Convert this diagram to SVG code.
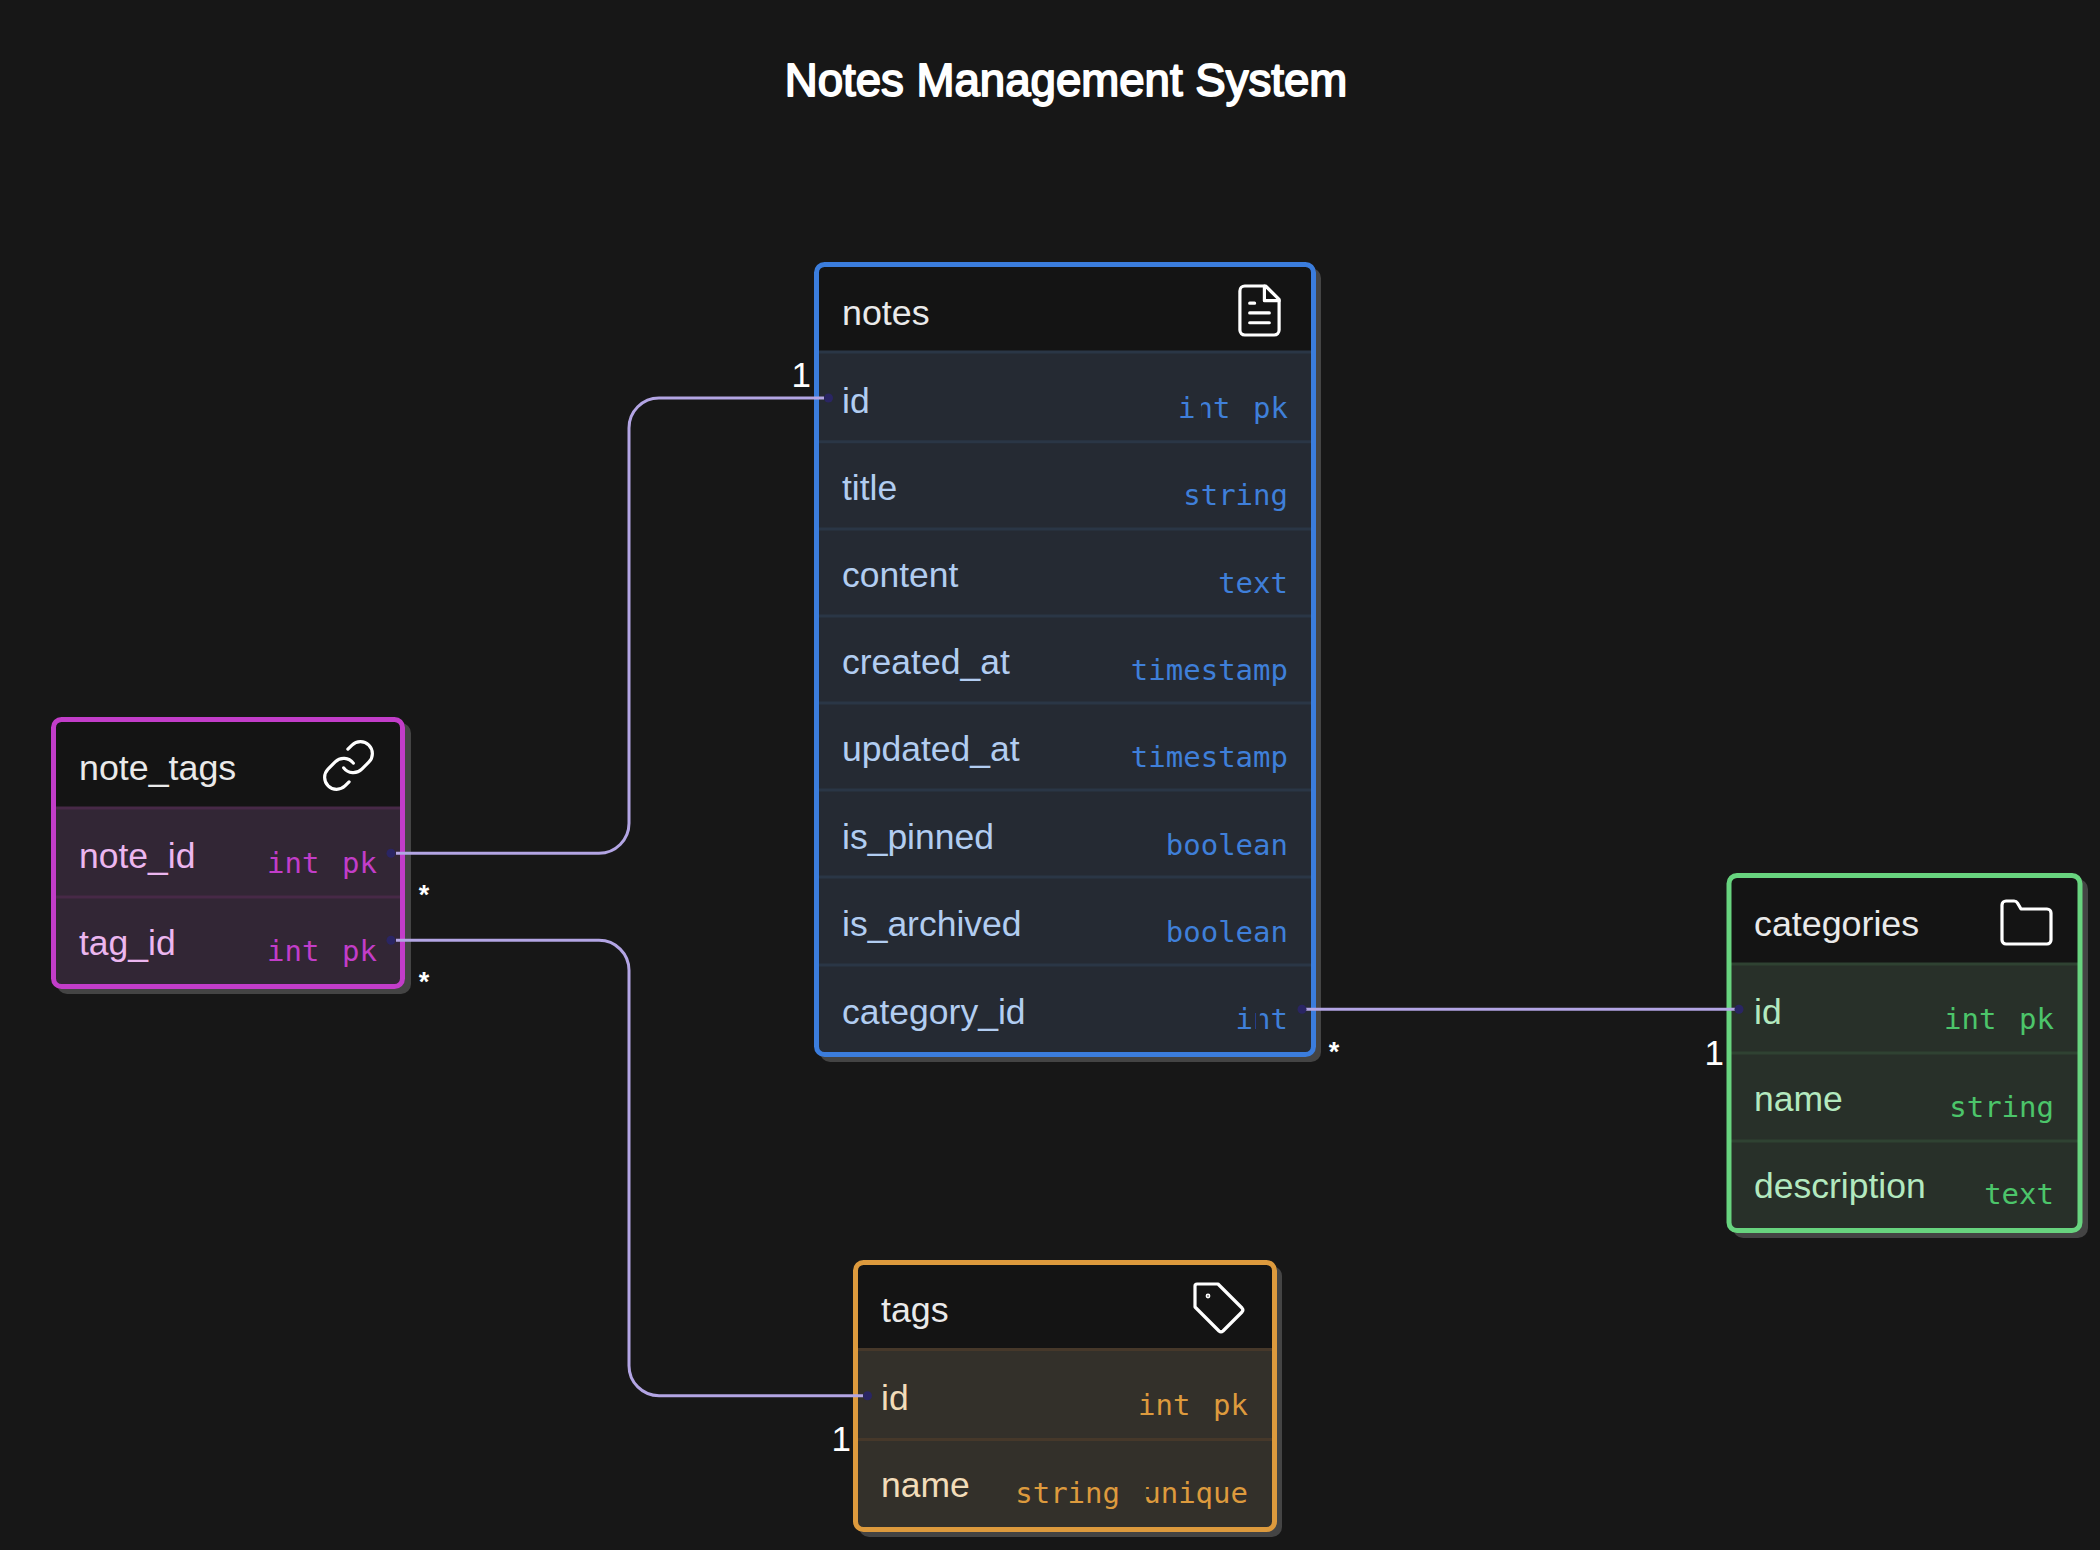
<svg xmlns="http://www.w3.org/2000/svg" width="2100" height="1550" viewBox="0 0 2100 1550">
<style>
.sh{fill:#444}
.title{font:400 45.6px "Liberation Sans",Arial,sans-serif;fill:#fff;stroke:#fff;stroke-width:1.8;stroke-linejoin:round;text-anchor:middle}
.h{font:400 35.8px "Liberation Sans",Arial,sans-serif;fill:#eaeaea}
.n{font:400 35.5px "Liberation Sans",Arial,sans-serif}
.t{font:400 29px "DejaVu Sans Mono",monospace;text-anchor:end}
.ic{fill:none;stroke:#fff;stroke-linecap:round;stroke-linejoin:round}
.d{stroke-width:3;fill:none}
.c{fill:none;stroke:#b3a5e4;stroke-width:3}
.dot{fill:#2a2563}
.lab{font:400 35px "Liberation Sans",Arial,sans-serif;fill:#fff}
.star{font:700 27px "Liberation Sans",Arial,sans-serif;fill:#fff;text-anchor:middle}
.hd{fill:#141414}
.blue .b{stroke:#3b7ddd}.blue .r{fill:#252a33}.blue .d{stroke:#2a3646}.blue .n{fill:#b2cdf1}.blue .t{fill:#3f7fd9}
.pink .b{stroke:#c23dc9}.pink .r{fill:#322635}.pink .d{stroke:#472947}.pink .n{fill:#ecb6ef}.pink .t{fill:#c23dc9}
.green .b{stroke:#68d47f}.green .r{fill:#283029}.green .d{stroke:#2f4232}.green .n{fill:#b3e9bf}.green .t{fill:#4cc56a}
.orange .b{stroke:#dd9a3d}.orange .r{fill:#33302a}.orange .d{stroke:#46382a}.orange .n{fill:#f2dcb9}.orange .t{fill:#dd9a3d}
.b{fill:none;stroke-width:5}
</style>
<rect width="2100" height="1550" fill="#171717"/>
<text id="title" class="title" x="1066" y="96">Notes Management System</text>

<g id="notes" class="blue">
<rect class="sh" x="820" y="268" width="501" height="794" rx="10"/>
<rect class="hd" x="816" y="264" width="498" height="791" rx="8"/>
<path class="r" d="M817 352H1313V1047a7 7 0 0 1-7 7H824a7 7 0 0 1-7-7Z"/>
<path class="d" d="M817 352H1313M817 441.700H1313M817 529H1313M817 616H1313M817 703H1313M817 790H1313M817 877H1313M817 965H1313"/>
<rect class="b" x="816.500" y="264.500" width="497" height="790" rx="8"/>
<text class="h" x="842" y="325">notes</text>
<g class="ic" transform="translate(1230.100 281.100) scale(2.45)" stroke-width="1.3"><path d="M14.500 2H6a2 2 0 0 0-2 2v16a2 2 0 0 0 2 2h12a2 2 0 0 0 2-2V7.500L14.500 2z"/><path d="M14 2v6h6M16 13H8M16 17H8M10 9H8"/></g>
<text class="n" x="842" y="413">id</text><text class="t" x="1230.400" y="418">int</text><text class="t" x="1288" y="418">pk</text>
<rect class="r" x="1197" y="401" width="4" height="18"/>
<text class="n" x="842" y="500">title</text><text class="t" x="1288" y="505">string</text>
<text class="n" x="842" y="587">content</text><text class="t" x="1288" y="593">text</text>
<text class="n" x="842" y="674">created_at</text><text class="t" x="1288" y="680">timestamp</text>
<text class="n" x="842" y="761">updated_at</text><text class="t" x="1288" y="767">timestamp</text>
<text class="n" x="842" y="849">is_pinned</text><text class="t" x="1288" y="855">boolean</text>
<text class="n" x="842" y="936">is_archived</text><text class="t" x="1288" y="942">boolean</text>
<text class="n" x="842" y="1024">category_id</text><text class="t" x="1288" y="1029">int</text>
<rect class="r" x="1255.800" y="1012" width="4" height="18"/>
</g>

<g id="note_tags" class="pink">
<rect class="sh" x="57" y="723" width="354" height="271" rx="10"/>
<rect class="hd" x="53" y="719" width="350" height="268" rx="8"/>
<path class="r" d="M54 808H402V979a7 7 0 0 1-7 7H61a7 7 0 0 1-7-7Z"/>
<path class="d" d="M54 808H402M54 897H402"/>
<rect class="b" x="53.500" y="719.500" width="349" height="267" rx="8"/>
<text class="h" x="79" y="780">note_tags</text>
<g class="ic" transform="translate(319.700 736.700) scale(2.4)" stroke-width="1.33"><path d="M10 13a5 5 0 0 0 7.540.540l3-3a5 5 0 0 0-7.070-7.070l-1.720 1.710"/><path d="M14 11a5 5 0 0 0-7.540-.540l-3 3a5 5 0 0 0 7.070 7.070l1.710-1.710"/></g>
<text class="n" x="79" y="868">note_id</text><text class="t" x="319.400" y="873">int</text><text class="t" x="377" y="873">pk</text>
<text class="n" x="79" y="955">tag_id</text><text class="t" x="319.400" y="961">int</text><text class="t" x="377" y="961">pk</text>
</g>

<g id="categories" class="green">
<rect class="sh" x="1733" y="879" width="355" height="359" rx="10"/>
<rect class="hd" x="1729" y="875" width="351" height="356" rx="8"/>
<path class="r" d="M1730 964H2079V1223a7 7 0 0 1-7 7H1737a7 7 0 0 1-7-7Z"/>
<path class="d" d="M1730 964H2079M1730 1053H2079M1730 1141H2079"/>
<rect class="b" x="1729" y="875.500" width="351" height="355" rx="8"/>
<text class="h" x="1754" y="936">categories</text>
<g class="ic" stroke-width="3.200"><path d="M2006 901h8a4 4 0 0 1 3.500 2l3.500 6h26a4 4 0 0 1 4 4v27a4 4 0 0 1-4 4h-41a4 4 0 0 1-4-4v-35a4 4 0 0 1 4-4Z"/></g>
<text class="n" x="1754" y="1024">id</text><text class="t" x="1996.400" y="1029">int</text><text class="t" x="2054" y="1029">pk</text>
<text class="n" x="1754" y="1111">name</text><text class="t" x="2054" y="1117">string</text>
<text class="n" x="1754" y="1198">description</text><text class="t" x="2054" y="1204">text</text>
</g>

<g id="tags" class="orange">
<rect class="sh" x="859" y="1266" width="423" height="271" rx="10"/>
<rect class="hd" x="855" y="1262" width="420" height="268" rx="8"/>
<path class="r" d="M856 1349H1274V1522a7 7 0 0 1-7 7H863a7 7 0 0 1-7-7Z"/>
<path class="d" d="M856 1349.500H1274M856 1439.500H1274"/>
<rect class="b" x="855.500" y="1262.500" width="419" height="267" rx="8"/>
<text class="h" x="881" y="1322">tags</text>
<g class="ic" stroke-width="3.200"><path d="M1197 1284h21l24 24a3 3 0 0 1 0 4l-19 19a3 3 0 0 1-4 0l-24-24v-21a2 2 0 0 1 2-2Z"/><circle cx="1208" cy="1296" r="0.800"/></g>
<text class="n" x="881" y="1410">id</text><text class="t" x="1190.400" y="1415">int</text><text class="t" x="1248" y="1415">pk</text>
<text class="n" x="881" y="1497">name</text><text class="t" x="1120" y="1503">string</text><text class="t" x="1248" y="1503">unique</text>
<rect class="r" x="1146" y="1489" width="4" height="8"/>
</g>

<g id="connectors">
<path class="c" d="M396 853.300H599a30 30 0 0 0 30-30V428a30 30 0 0 1 30-30H824"/>
<path class="c" d="M396 940.300H599a30 30 0 0 1 30 30V1365.700a30 30 0 0 0 30 30H863"/>
<path class="c" d="M1306 1009.300H1735"/>
<circle class="dot" cx="391" cy="853.300" r="4.500"/><circle class="dot" cx="391" cy="940.300" r="4.500"/>
<circle class="dot" cx="828.500" cy="398" r="4.500"/><circle class="dot" cx="867.500" cy="1395.700" r="4.500"/>
<circle class="dot" cx="1302" cy="1009.300" r="4.500"/><circle class="dot" cx="1739" cy="1009.300" r="4.500"/>
</g>
<g id="labels">
<text class="lab" x="811" y="387" text-anchor="end">1</text>
<text class="lab" x="1724" y="1065" text-anchor="end">1</text>
<text class="lab" x="851" y="1451" text-anchor="end">1</text>
<text class="star" x="424" y="904">*</text>
<text class="star" x="424" y="991">*</text>
<text class="star" x="1334" y="1061">*</text>
</g>
</svg>
